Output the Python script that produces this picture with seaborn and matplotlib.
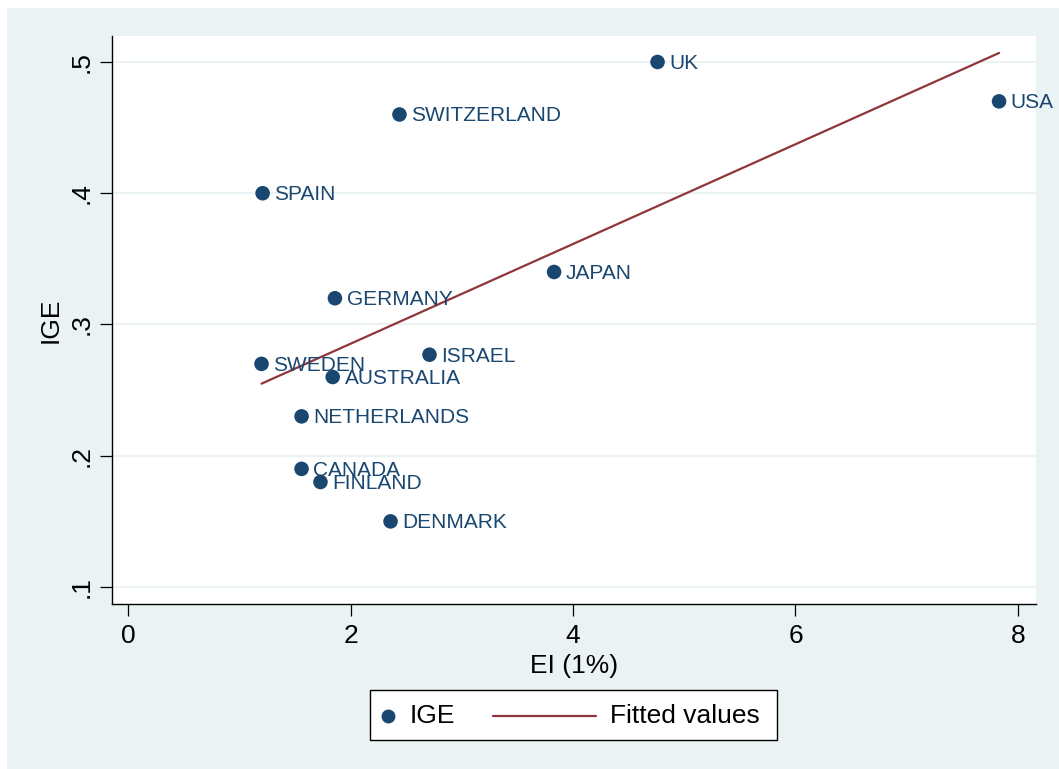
import numpy as np
import pandas as pd
import matplotlib
matplotlib.use("Agg")
import matplotlib.pyplot as plt
from matplotlib.patches import Rectangle
from matplotlib.lines import Line2D
import seaborn as sns

countries = ["UK", "USA", "SWITZERLAND", "SPAIN", "JAPAN", "GERMANY", "ISRAEL",
             "SWEDEN", "AUSTRALIA", "NETHERLANDS", "CANADA", "FINLAND", "DENMARK"]
ei = [4.76, 7.83, 2.44, 1.21, 3.83, 1.86, 2.71, 1.20, 1.84, 1.56, 1.56, 1.73, 2.36]
ige = [0.50, 0.47, 0.46, 0.40, 0.34, 0.32, 0.277, 0.27, 0.26, 0.23, 0.19, 0.18, 0.15]
x_ticks = [0, 2, 4, 6, 8]
y_ticks = [0.1, 0.2, 0.3, 0.4, 0.5]
y_tick_labels = [".1", ".2", ".3", ".4", ".5"]

df = pd.DataFrame({"country": countries, "EI": ei, "IGE": ige})

sns.set_style("white")
plt.rcParams["font.family"] = ["Liberation Sans", "DejaVu Sans"]
plt.rcParams["text.color"] = "black"
plt.rcParams["axes.labelcolor"] = "black"

NAVY = "#1A476F"
MAROON = "#90353B"
BG = "#EAF2F3"

W, H = 1059, 769
fig = plt.figure(figsize=(W / 100, H / 100), dpi=100, facecolor="white")


def fx(px):
    return px / W


def fy(py):
    return 1 - py / H


fig.patches.append(Rectangle((fx(7), 0), 1 - fx(7), fy(8), transform=fig.transFigure,
                             facecolor=BG, edgecolor="none", zorder=-10))

ax = fig.add_axes([fx(112), fy(604), fx(1036) - fx(112), fy(36) - fy(604)])
ax.set_facecolor("white")

sns.regplot(data=df, x="EI", y="IGE", scatter=False, ci=None, truncate=True,
            line_kws={"color": MAROON, "lw": 1.6, "zorder": 3}, ax=ax)
sns.scatterplot(data=df, x="EI", y="IGE", color=NAVY, s=110, edgecolor="none",
                zorder=4, ax=ax, legend=False)
for c, xv, yv in zip(countries, ei, ige):
    ax.annotate(c, (xv, yv), xytext=(8.5, -1), textcoords="offset points",
                ha="left", va="center", fontsize=15, color=NAVY, zorder=5)

ax.set_xlim(-0.144, 8.162)
ax.set_ylim(0.08705, 0.5198)
ax.set_xticks(x_ticks)
ax.set_xticklabels([str(t) for t in x_ticks])
ax.set_yticks(y_ticks)
ax.set_yticklabels(y_tick_labels, rotation=90, va="center")
ax.grid(axis="y", color=BG, lw=1.5)
ax.grid(axis="x", visible=False)
ax.set_axisbelow(True)

for s in ["top", "right"]:
    ax.spines[s].set_visible(False)
for s in ["left", "bottom"]:
    ax.spines[s].set_color("black")
    ax.spines[s].set_linewidth(1.0)

ax.tick_params(axis="both", which="major", bottom=True, left=True, direction="out",
               length=8.5, width=0.9, color="black", labelsize=19, labelcolor="black")
ax.tick_params(axis="x", pad=6)
ax.tick_params(axis="y", pad=5)
ax.set_xlabel("EI (1%)", fontsize=19, labelpad=4, color="black")
ax.set_ylabel("IGE", fontsize=19, labelpad=5, color="black")

# legend box
fig.patches.append(Rectangle((fx(370), fy(740)), fx(777) - fx(370), fy(690) - fy(740),
                             transform=fig.transFigure, facecolor="white",
                             edgecolor="black", lw=1.0, zorder=5))
ly = fy(716)
fig.add_artist(Line2D([fx(388)], [ly], marker="o", markersize=10, color=NAVY,
                      markeredgewidth=0, transform=fig.transFigure, zorder=6))
fig.text(fx(410), ly, "IGE", fontsize=19, va="center", ha="left", zorder=6)
fig.add_artist(Line2D([fx(493), fx(596)], [ly, ly], color=MAROON, lw=1.6,
                      transform=fig.transFigure, zorder=6))
fig.text(fx(610), ly, "Fitted values", fontsize=19, va="center", ha="left", zorder=6)

fig.savefig("out.png", dpi=100, facecolor=fig.get_facecolor())
